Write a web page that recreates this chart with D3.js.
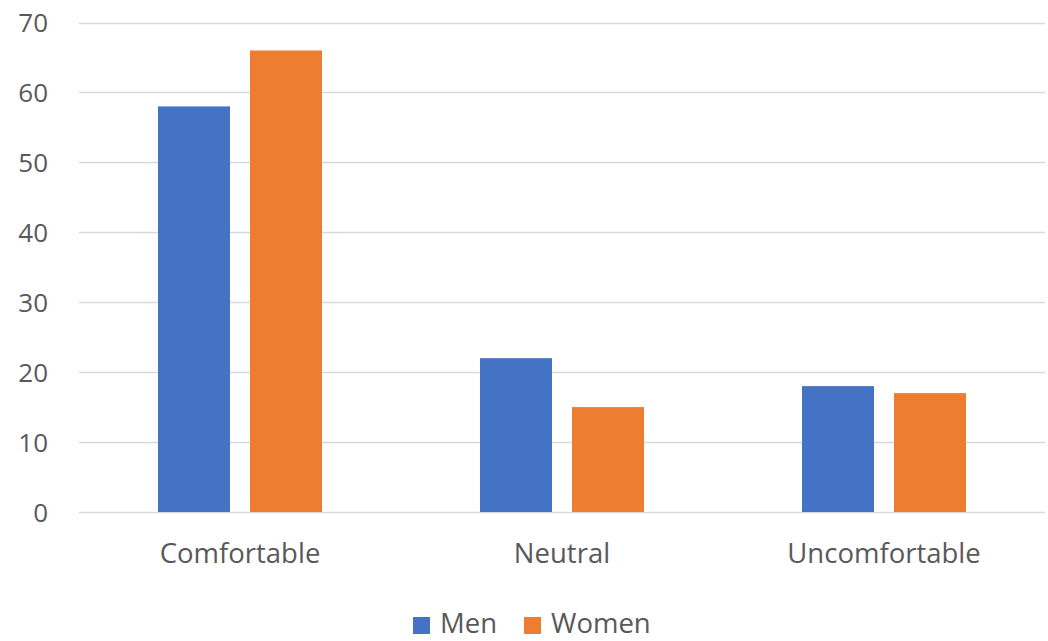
<!DOCTYPE html>
<html><head><meta charset="utf-8">
<script src="https://cdn.jsdelivr.net/npm/d3@7"></script>
<style>body{margin:0;background:#fff}text{font-family:"Open Sans",sans-serif;fill:#595959}</style>
</head><body><svg id="c" width="1048" height="641"></svg>
<script>
const categories = ["Comfortable", "Neutral", "Uncomfortable"];
const seriesNames = ["Men", "Women"];
const men = [58, 22, 18];
const women = [66, 15, 17];
const yTicks = [0, 10, 20, 30, 40, 50, 60, 70];
const colors = ["#4472C4", "#ED7D31"];

const svg = d3.select("#c");
const m = {left: 79, right: 1045, top: 22.5, bottom: 512};
const x = d3.scaleBand().domain(categories).range([m.left, m.right]).paddingInner(0).paddingOuter(0);
const y = d3.scaleLinear().domain([0, 70]).range([m.bottom, m.top]);
const x1 = d3.scaleBand().domain(seriesNames).range([0, 164]).paddingInner(20/92);

svg.append("g").selectAll("line").data(yTicks).join("line")
  .attr("x1", m.left).attr("x2", m.right)
  .attr("y1", d => Math.round(y(d)) + 0.5).attr("y2", d => Math.round(y(d)) + 0.5)
  .attr("stroke", "#d9d9d9").attr("stroke-width", 1.3);

const yAxis = d3.axisLeft(y).tickValues(yTicks).tickSize(0).tickPadding(0);
const ga = svg.append("g").attr("transform", "translate(48,0)").call(yAxis);
ga.select(".domain").remove();
ga.selectAll("text").style("font-size", "26px").attr("fill", "#595959").attr("dy", "0.35em").style("font-family", '"Open Sans",sans-serif');

const data = [men, women];
const groups = svg.append("g").selectAll("g").data(categories).join("g")
  .attr("transform", d => `translate(${x(d) + x.bandwidth()/2 - 82},0)`);
groups.selectAll("rect").data((d, i) => seriesNames.map((s, j) => ({s, v: data[j][i], c: colors[j]}))).join("rect")
  .attr("x", d => x1(d.s)).attr("width", x1.bandwidth())
  .attr("y", d => y(d.v)).attr("height", d => y(0) - y(d.v))
  .attr("fill", d => d.c);

const xAxis = d3.axisBottom(x).tickSize(0).tickPadding(0);
const gx = svg.append("g").attr("transform", "translate(0,563)").call(xAxis);
gx.select(".domain").remove();
gx.selectAll("text").attr("dy", 0).style("font-size", "27.5px").attr("fill", "#595959").style("font-family", '"Open Sans",sans-serif');

const legend = svg.append("g");
const lx = [413, 524];
seriesNames.forEach((s, i) => {
  legend.append("rect").attr("x", lx[i]).attr("y", 617).attr("width", 17).attr("height", 17).attr("fill", colors[i]);
  legend.append("text").attr("x", lx[i] + 27).attr("y", 633).text(s).style("font-size", "27.5px");
});
</script></body></html>
